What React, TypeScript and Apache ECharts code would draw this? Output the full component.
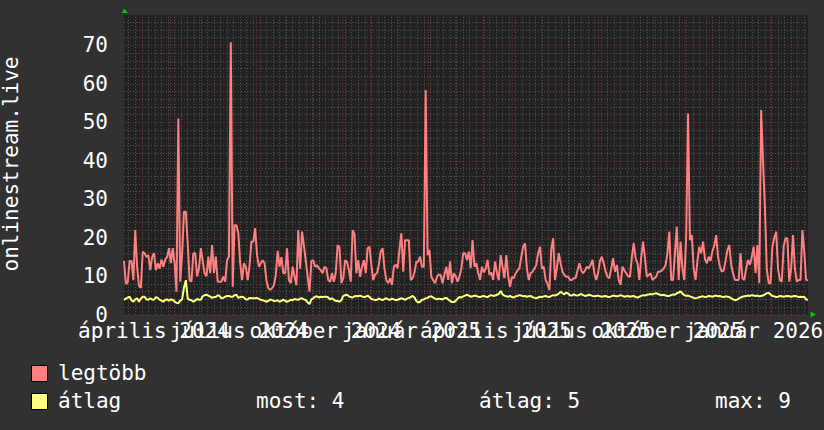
import React, { useEffect, useRef } from 'react';
import * as echarts from 'echarts';

// Time span of the graph: 13 March 2024 -> 13 March 2026 (days)
const SPAN_DAYS = 730;

// Day offsets (from the start) of each month start shown by a red grid line
const monthStartDays = [19, 49, 80, 110, 141, 172, 202, 233, 263, 294, 325, 353, 384, 414, 445, 475, 506, 537, 567, 598, 628, 659, 690, 718];
// First Monday (weekly grid) and week length
const FIRST_MONDAY_DAY = 5;
const WEEK_DAYS = 7;

// X axis labels (quarterly)
const xLabelTexts = ['április 2024', 'július 2024', 'október 2024', 'január 2025', 'április 2025', 'július 2025', 'október 2025', 'január 2026'];
const xLabelDays = [19, 110, 202, 294, 384, 475, 567, 659];
const X_LABEL_SHIFT_DAYS = 13;

// Y axis
const Y_MAX = 77.9;
const yMajorTicks = [0, 10, 20, 30, 40, 50, 60, 70];

// "legtöbb" (max) series, sampled every 2 days
const legtobb = [
  14, 8, 8.5, 14, 14, 9, 22, 12.5, 7.5, 7,
  16.4, 16, 15, 15.5, 11.6, 15, 16, 11.6, 13.4, 12,
  14.4, 12.5, 14.4, 15, 17.3, 13.4, 17.3, 13.4, 6, 51,
  8.6, 15.5, 26.8, 26.8, 18.6, 9, 8.6, 16, 16, 10,
  12, 17.3, 14, 10.8, 10, 15.1, 10.8, 18.1, 10.8, 15.1,
  8.6, 8.6, 8.6, 9.9, 8.6, 14.2, 15.1, 70.8, 7.3, 23.3,
  23.3, 21.2, 13.4, 9, 13.4, 12.5, 9, 12.8, 19, 19,
  22.5, 15.5, 12.5, 13.4, 14.2, 13.4, 9, 6.9, 6.5, 6.9,
  7.7, 10.3, 16.6, 12.5, 15, 10.8, 10.8, 17.3, 9, 8.2,
  12.5, 9.9, 7.7, 22, 12, 21.6, 18, 14, 10, 6,
  14, 14.2, 12.5, 12.9, 12.1, 11.6, 10.8, 12.5, 12.1, 9,
  8.6, 10.8, 8.6, 11, 18.1, 17.5, 8.2, 9.5, 14.2, 13.8,
  11.6, 8.6, 22, 21, 10.8, 14.2, 9.9, 12.5, 14.2, 10.8,
  17.3,
  17.7, 13, 9, 10.5, 10.8, 13, 16.5, 17.3, 12, 9,
  8.2, 9.5, 7.75, 12.5, 13, 12.1, 17, 21.2, 11.2, 19.4,
  19.4, 19.4, 9, 9.5, 11, 13.8, 13.8, 15.1, 12.5, 12.5,
  58.4, 15.5, 16.8, 9.9, 9, 8.2, 9.9, 10.5, 10.35, 8.2,
  10.5, 12.5, 9.05, 13.8, 8.2, 10.8, 10, 8.6, 9.9, 12,
  16, 16, 14.25, 16.4, 12.1, 19.4, 12.5, 13.4, 11, 9.05,
  12.5, 11, 12, 14.25, 10.35, 11, 9.05, 13.8, 11, 9,
  15.5, 12.5, 9.5, 15.5, 10, 7.3, 9.9, 9.5, 10.8, 11.5,
  12.1, 15, 17.7, 18.6, 12, 9.05, 10.8, 11.2, 12, 12.95,
  16, 17.7, 12, 12.5, 9.05, 8, 6.45, 17, 19.9, 9.05,
  12.1, 16, 13.4, 11.2, 10.35, 9.9, 9.9, 9.05, 9.05, 9.5,
  9.5, 11.5, 13.4, 11.5, 10.8, 11.5, 12.5, 12.1, 13, 14.25,
  10.8, 9.05, 11, 14, 15.1, 13.4, 11.2, 9.9, 9.5, 12,
  14.7, 11.2, 12.95, 9, 7.75, 12.5, 11.5, 10.8, 10, 9.9,
  15, 18.6, 14.7, 13.4, 9.05, 15, 19, 14.7, 9.9, 10.35,
  10.8, 9.05, 9.5, 9.9, 11.2, 11.2, 11.5, 12, 12.95, 16,
  21.6, 9.05, 9.05, 16, 22.9, 9.05, 19, 12, 9.05, 20.3,
  52.3, 19.4, 20.7, 12, 9.05, 14, 17.7, 16, 19, 14.5,
  13.4, 15.1, 14, 16.5, 18, 20.7, 15, 12.5, 11.2, 11.5,
  14, 16.8, 18.1, 13, 10.8, 9.05, 9.05, 9.05, 16, 9.5,
  9.05, 12, 14.25, 12.95, 15, 17.7, 10.8, 18.1, 8.2, 53.2,
  39.8, 28, 12, 8.2, 8.2, 17.7, 20, 21.6, 12, 9.05,
  8.6, 17.7, 19.9, 19.9, 8.6, 12, 20.7, 12, 8.6, 9.05,
  9.05, 22, 16.4, 9.05, 9,
];

// "átlag" (average) series, sampled every 2 days
const atlag = [
  3.9, 4.2, 4.5, 4.7, 3.8, 3.4, 4.0, 4.3, 3.4, 4.2,
  4.7, 4.7, 4.0, 3.9, 4.3, 4.0, 3.9, 4.6, 4.4, 3.9,
  3.7, 3.4, 3.9, 4.0, 3.7, 4.0, 3.9, 3.4, 3.1, 3.0,
  3.7, 4.0, 7.0, 9.0, 4.2, 3.9, 3.8, 3.4, 3.7, 4.1,
  3.9, 3.9, 4.8, 5.1, 5.2, 5.0, 4.7, 4.4, 4.6, 4.6,
  5.1, 4.9, 4.3, 4.4, 4.7, 4.9, 4.9, 4.7, 4.7, 5.1,
  5.2, 4.4, 4.6, 4.7, 4.5, 4.0, 4.0, 4.4, 4.3, 4.3,
  4.3, 4.4, 4.1, 3.9, 3.8, 3.6, 3.4, 3.6, 4.0, 3.8,
  3.6, 3.6, 3.8, 3.4, 3.6, 4.0, 3.6, 3.4, 3.6, 3.9,
  3.8, 4.1, 4.0, 3.9, 4.2, 4.3, 4.0, 3.8, 3.2, 2.8,
  4.0, 4.3, 4.7, 4.8, 4.5, 4.7, 4.6, 4.7, 4.7, 4.5,
  4.0, 4.3, 3.9, 3.6, 3.6, 3.4, 3.8, 4.9, 5.1, 5.2,
  4.8, 4.6, 4.5, 4.8, 4.9, 4.8, 5.0, 4.8, 4.6, 4.7,
  5.0,
  4.6, 4.1, 4.0, 3.8, 3.9, 4.2, 4.0, 3.8, 4.1, 4.3,
  4.0, 3.9, 4.2, 4.0, 3.8, 3.9, 4.1, 4.3, 4.1, 3.9,
  4.2, 4.4, 4.6, 4.9, 4.5, 3.6, 3.2, 3.4, 3.9, 4.0,
  4.3, 4.4, 4.7, 4.8, 4.5, 4.2, 4.0, 4.2, 4.1, 4.0,
  4.3, 4.4, 4.0, 3.6, 3.3, 3.3, 3.6, 4.2, 4.6, 4.5,
  4.8, 5.0, 5.2, 5.0, 4.7, 4.8, 5.0, 4.9, 4.7, 4.6,
  4.8, 4.9, 4.7, 4.6, 4.9, 5.1, 4.9, 5.0, 5.2, 5.4,
  6.2, 5.3, 5.0, 4.8, 4.7, 4.9, 4.6, 4.5, 4.8, 4.9,
  5.1, 5.0, 4.8, 4.9, 4.7, 4.8, 4.9, 4.6, 4.4, 4.3,
  4.5, 4.7, 4.6, 4.8, 4.9, 4.7, 4.6, 4.9, 5.1, 5.0,
  5.2, 5.5, 6.0, 5.6, 5.3, 5.8, 5.5, 5.1, 5.0, 5.3,
  5.1, 5.0, 5.2, 5.4, 5.1, 4.9, 5.0, 5.2, 5.1, 4.9,
  4.8, 4.9, 5.0, 4.8, 4.7, 4.8, 4.9, 4.7, 4.6, 4.8,
  5.0, 4.9, 4.8, 4.9, 5.1, 4.9, 4.7, 4.8, 4.9, 4.7,
  4.8, 4.9, 4.6, 4.5, 4.7, 4.9, 5.1, 5.0, 5.2, 5.3,
  5.4, 5.3, 5.5, 5.6, 5.4, 5.2, 5.1, 5.2, 5.0, 4.9,
  4.9, 5.1, 5.3, 5.2, 5.6, 5.8, 6.1, 5.5, 5.1, 4.9,
  5.0, 4.8, 4.6, 4.4, 4.3, 4.4, 4.6, 4.7, 4.8, 4.6,
  4.7, 4.9, 4.8, 4.7, 4.9, 5.0, 4.8, 4.9, 4.7, 4.6,
  4.8, 4.7, 4.6, 4.3, 4.0, 3.8, 3.9, 4.2, 4.5, 4.7,
  4.8, 4.9, 5.0, 4.9, 5.1, 5.0, 4.9, 5.0, 4.8, 4.9,
  5.0, 5.3, 5.6, 5.7, 5.3, 4.9, 4.8, 4.6, 4.7, 4.9,
  4.8, 4.7, 4.8, 4.9, 4.8, 4.7, 4.8, 4.9, 4.8, 4.6,
  4.7, 4.6, 4.7, 4.0, 3.9,
];

// Legend texts and values
const seriesNames = ['legtöbb', 'átlag'];
const seriesColors = ['#ff8080', '#ffff80'];
const AVG_NOW = 4;
const AVG_MEAN = 5;
const AVG_MAX = 9;

const FONT = 'DejaVu Sans Mono';
const BG = '#313131';
const CANVAS = '#222222';
const GRID_GRAY = '#575757';
const GRID_RED = '#763232';
const ARROW = '#00cc00';

export default function App() {
  const ref = useRef<HTMLDivElement>(null);

  useEffect(() => {
    if (!ref.current) return;
    const chart = echarts.init(ref.current, null, { renderer: 'svg' });
    const toPairs = (vals: number[]) => vals.map((v, i) => [(i * SPAN_DAYS) / (vals.length - 1), v]);

    const weekDays: number[] = [];
    for (let d = FIRST_MONDAY_DAY; d <= SPAN_DAYS; d += WEEK_DAYS) weekDays.push(d);

    const labelValues = xLabelDays.map((d) => d + X_LABEL_SHIFT_DAYS);
    // empty placeholder labels at both ends, so ECharts' min/max label logic
    // never hides one of the real (overlapping) month labels
    const customLabelValues = [0, ...labelValues, SPAN_DAYS];

    const gridLeft = 124;
    const gridTop = 15;
    const gridWidth = 684;
    const gridHeight = 299.8;

    chart.setOption({
      animation: false,
      backgroundColor: BG,
      grid: {
        left: gridLeft,
        top: gridTop,
        width: gridWidth,
        height: gridHeight,
        show: true,
        backgroundColor: CANVAS,
        borderWidth: 0,
        containLabel: false,
        outerBoundsMode: 'none',
      },
      xAxis: {
        type: 'value',
        min: 0,
        max: SPAN_DAYS,
        axisLine: { show: false },
        axisTick: { show: false },
        splitLine: { show: false },
        axisLabel: {
          customValues: customLabelValues,
          formatter: (v: number) => {
            const idx = labelValues.indexOf(v);
            return idx >= 0 ? xLabelTexts[idx] : '';
          },
          color: '#ffffff',
          fontFamily: FONT,
          fontSize: 21,
          margin: 6,
          hideOverlap: false,
          showMinLabel: false,
          showMaxLabel: false,
        },
      },
      yAxis: {
        type: 'value',
        min: 0,
        max: Y_MAX,
        interval: 2,
        axisLine: { show: false },
        axisTick: { show: false },
        axisLabel: {
          formatter: (v: number) => (yMajorTicks.indexOf(v) >= 0 ? String(v) : ''),
          color: '#ffffff',
          fontFamily: FONT,
          fontSize: 21,
          margin: 16,
          showMaxLabel: false,
        },
        splitLine: {
          show: true,
          showMaxLine: false,
          lineStyle: {
            color: [GRID_RED, GRID_GRAY, GRID_GRAY, GRID_GRAY, GRID_GRAY],
            type: [1, 2],
            width: 1,
          },
        },
      },
      series: [
        {
          type: 'line',
          data: [],
          silent: true,
          markLine: {
            silent: true,
            z: 1,
            symbol: ['none', 'none'],
            label: { show: false },
            lineStyle: { color: GRID_GRAY, type: [1, 2], width: 1 },
            data: weekDays.map((d) => ({ xAxis: d })),
          },
        },
        {
          type: 'line',
          data: [],
          silent: true,
          markLine: {
            silent: true,
            z: 1,
            symbol: ['none', 'none'],
            label: { show: false },
            lineStyle: { color: GRID_RED, type: [1, 2], width: 1 },
            data: monthStartDays.map((d) => ({ xAxis: d })),
          },
        },
        {
          name: seriesNames[0],
          type: 'line',
          data: toPairs(legtobb),
          showSymbol: false,
          z: 3,
          lineStyle: { color: seriesColors[0], width: 2 },
          itemStyle: { color: seriesColors[0] },
        },
        {
          name: seriesNames[1],
          type: 'line',
          data: toPairs(atlag),
          showSymbol: false,
          z: 4,
          lineStyle: { color: seriesColors[1], width: 2 },
          itemStyle: { color: seriesColors[1] },
        },
      ],
      graphic: [
        {
          type: 'text',
          x: 11,
          y: 164,
          rotation: Math.PI / 2,
          style: {
            text: 'onlinestream.live',
            fill: '#ffffff',
            font: `21px "${FONT}"`,
            align: 'center',
            verticalAlign: 'middle',
          },
        },
        {
          type: 'polygon',
          shape: { points: [[121.5, 13], [127.5, 13], [124.5, 8.5]] },
          style: { fill: ARROW },
        },
        {
          type: 'polygon',
          shape: { points: [[810.5, 311.5], [810.5, 317.5], [816, 314.5]] },
          style: { fill: ARROW },
        },
        {
          type: 'rect',
          shape: { x: 31.5, y: 365.5, width: 16, height: 16 },
          style: { fill: seriesColors[0], stroke: '#000000', lineWidth: 1 },
        },
        {
          type: 'rect',
          shape: { x: 31.5, y: 393.5, width: 16, height: 16 },
          style: { fill: seriesColors[1], stroke: '#000000', lineWidth: 1 },
        },
        {
          type: 'text',
          x: 58,
          y: 373,
          style: { text: seriesNames[0], fill: '#ffffff', font: `21px "${FONT}"`, verticalAlign: 'middle' },
        },
        {
          type: 'text',
          x: 58,
          y: 401,
          style: { text: seriesNames[1], fill: '#ffffff', font: `21px "${FONT}"`, verticalAlign: 'middle' },
        },
        {
          type: 'text',
          x: 256,
          y: 401,
          style: { text: `most: ${AVG_NOW}`, fill: '#ffffff', font: `21px "${FONT}"`, verticalAlign: 'middle' },
        },
        {
          type: 'text',
          x: 479,
          y: 401,
          style: { text: `átlag: ${AVG_MEAN}`, fill: '#ffffff', font: `21px "${FONT}"`, verticalAlign: 'middle' },
        },
        {
          type: 'text',
          x: 715,
          y: 401,
          style: { text: `max: ${AVG_MAX}`, fill: '#ffffff', font: `21px "${FONT}"`, verticalAlign: 'middle' },
        },
      ],
    });

    return () => chart.dispose();
  }, []);

  return <div ref={ref} style={{ position: 'fixed', left: 0, top: 0, width: 824, height: 430 }} />;
}
